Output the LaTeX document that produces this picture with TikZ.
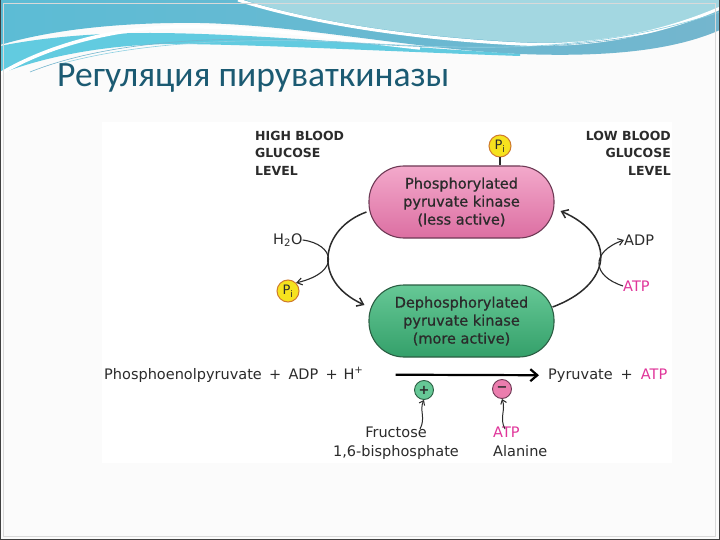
\documentclass[tikz,border=0pt]{standalone}
\usepackage{fontspec}
\setmainfont{DejaVu Sans}
\newfontfamily\titlefont{Carlito}
\newfontfamily\pillfont[FakeBold=0.8]{DejaVu Sans}
\usetikzlibrary{arrows.meta,calc}
\definecolor{slidebg}{HTML}{FBFBFB}
\definecolor{titlecol}{HTML}{1B5A72}
\definecolor{tealA}{HTML}{74B6CE}
\definecolor{tealL}{HTML}{5CBCD5}
\definecolor{tealB}{HTML}{A3D7E1}
\definecolor{cyanC}{HTML}{62CBE0}
\definecolor{txt}{HTML}{2B2B2B}
\definecolor{atppink}{HTML}{E0359A}
\definecolor{pinkT}{HTML}{F3A9CB}
\definecolor{pinkM}{HTML}{F5BCD6}
\definecolor{pinkB}{HTML}{DC6FA2}
\definecolor{pinkC}{HTML}{EB7DAE}
\definecolor{pinkEdge}{HTML}{6E3A55}
\definecolor{greenT}{HTML}{66C896}
\definecolor{greenM}{HTML}{86D6AB}
\definecolor{greenB}{HTML}{34A06A}
\definecolor{greenEdge}{HTML}{2B5E43}
\definecolor{piyellow}{HTML}{F6E21E}
\definecolor{piedge}{HTML}{CF7A2E}
\begin{document}
\begin{tikzpicture}[x=1pt,y=-1pt,
  lbl/.style={font=\fontsize{14.5}{19}\selectfont, text=txt, inner sep=0pt},
  hdr/.style={font=\bfseries\fontsize{12.5}{17.5}\selectfont, text=txt, inner sep=0pt},
  pillbase/.style={rectangle, rounded corners=35pt, minimum width=185pt, minimum height=72pt,
     align=center, line width=1.1pt, text=txt, font=\pillfont\fontsize{14.5}{18}\selectfont},
  pinkpill/.style={pillbase, draw=pinkEdge, top color=pinkT, middle color=pinkM, bottom color=pinkB},
  greenpill/.style={pillbase, draw=greenEdge, top color=greenT, middle color=greenM, bottom color=greenB},
  picirc/.style={circle, draw=piedge, fill=piyellow, line width=1pt, minimum size=22pt, inner sep=0pt,
     text=txt, font=\fontsize{13}{13}\selectfont},
  effcirc/.style={circle, draw=greenEdge, line width=0.9pt, minimum size=19pt, inner sep=0pt,
     text=txt, font=\bfseries\fontsize{13}{13}\selectfont},
  arc/.style={draw=txt, line width=1.5pt, -{Straight Barb[length=6pt,width=9pt]}},
  thinarc/.style={draw=txt, line width=1.1pt, -{Straight Barb[length=5pt,width=7pt]}},
  mainarrow/.style={draw=black, line width=2.2pt, -{Straight Barb[length=7pt,width=12pt]}},
  smallarrow/.style={draw=txt, line width=1pt, -{Straight Barb[length=4pt,width=6pt]}}
]
\useasboundingbox (0,0) rectangle (720,540);
% slide background
\fill[slidebg] (0,0) rectangle (720,540);
% header waves
\shade[left color=tealL, right color=tealA]
  (0,0) -- (720,0) -- (720,30) .. controls (670,52) and (600,57) .. (520,54)
  .. controls (420,50) and (300,25) .. (200,23) .. controls (120,22) and (50,30) .. (0,45) -- cycle;
\fill[tealB] (245,0) -- (720,0) -- (720,10) .. controls (680,28) and (610,46) .. (520,42)
  .. controls (400,36) and (300,18) .. (245,0) -- cycle;
\draw[white, line width=3pt] (238,0) .. controls (300,20) and (400,38) .. (520,44)
  .. controls (610,48) and (680,26) .. (725,6);
\fill[cyanC] (0,46) .. controls (40,38) and (90,33) .. (150,33) .. controls (250,33) and (400,47) .. (520,54)
  -- (520,56) .. controls (400,52) and (250,44) .. (170,44) .. controls (100,45) and (40,58) .. (0,74) -- cycle;
\draw[white, line width=3.5pt] (0,74) .. controls (40,50) and (100,30) .. (170,27)
  .. controls (250,25) and (330,38) .. (420,48);
\draw[tealA, line width=0.6pt] (30,72) .. controls (100,44) and (200,36) .. (300,40)
  .. controls (420,46) and (560,62) .. (720,18);
\draw[tealL!70, line width=0.6pt] (60,64) .. controls (140,42) and (240,38) .. (340,42)
  .. controls (460,48) and (580,58) .. (720,12);
% slide border
\draw[gray!30, line width=0.6pt] (3,3) rectangle (715,536);
\draw[black!75, line width=1.3pt] (0.6,0) -- (0.6,539.4) -- (719.4,539.4) -- (719.4,0);
% title
\node[anchor=base west, font=\titlefont\fontsize{35.6}{36}\selectfont, text=titlecol, inner sep=0pt]
  (title) at (57,87) {Регуляция пируваткиназы};
% diagram panel
\fill[white] (102,122) rectangle (672,463);
% headers
\node[hdr, align=left, anchor=north west] (high) at (255,131) {HIGH BLOOD\\GLUCOSE\\LEVEL};
\node[hdr, align=right, anchor=north east] (low) at (671,131) {LOW BLOOD\\GLUCOSE\\LEVEL};
% enzymes
\node[pinkpill] (phos) at (461.5,202) {Phosphorylated\\pyruvate kinase\\(less active)};
\node[greenpill] (dephos) at (461.5,321) {Dephosphorylated\\pyruvate kinase\\(more active)};
\node[picirc] (pitop) at (500,146) {P\textsubscript{i}};
\draw[txt, line width=1.1pt] (pitop.south) -- (pitop.south |- phos.north);
\node[picirc] (pileft) at (288,291) {P\textsubscript{i}};
\node[lbl, anchor=west] (h2o) at (273,240) {H\textsubscript{2}O};
\node[lbl, anchor=west] (adp) at (624,240) {ADP};
\node[lbl, anchor=west, text=atppink] (atp1) at (623,286) {ATP};
% interconversion arcs
\draw[arc] ($(phos.west)+(-2,10)$) .. controls (322,228) and (310,280) .. ($(dephos.west)+(-4,-16)$);
\draw[arc] ($(dephos.east)+(-2,-14)$) .. controls (612,285) and (618,236) .. ($(phos.east)+(6,9)$);
\draw[thinarc] (h2o.east) .. controls (334,244) and (342,272) .. (pileft.north east);
\draw[thinarc] (atp1.west) .. controls (592,276) and (590,252) .. (adp.west);
% reaction
\node[lbl, anchor=base west] (pep) at (104,379)
  {Phosphoenolpyruvate\hspace{0.5em}+\hspace{0.5em}ADP\hspace{0.5em}+\hspace{0.4em}H\textsuperscript{+}};
\node[lbl, anchor=base west] (pyr) at (548,379)
  {Pyruvate\hspace{0.55em}+\hspace{0.55em}\textcolor{atppink}{ATP}};
\draw[mainarrow] ([xshift=32pt]pep.east) -- ([xshift=-9pt]pyr.west);
% effectors
\node[effcirc, fill=greenT] (plus) at (424,390) {+};
\node[effcirc, fill=pinkC, draw=pinkEdge] (minus) at (502,389) {\textminus};
\node[lbl, align=center, anchor=north] (fru) at (396,427) {Fructose\\1,6-bisphosphate};
\node[lbl, align=left, anchor=north west] (inh) at (493,427) {\textcolor{atppink}{ATP}\\Alanine};
\coordinate (fruTop) at (420,429);
\coordinate (inhTop) at (505,429);
\draw[smallarrow] (fruTop) .. controls (426,418) and (419,410) .. (plus.south);
\draw[smallarrow] (inhTop) .. controls (499,418) and (506,410) .. (minus.south);
\end{tikzpicture}
\end{document}
